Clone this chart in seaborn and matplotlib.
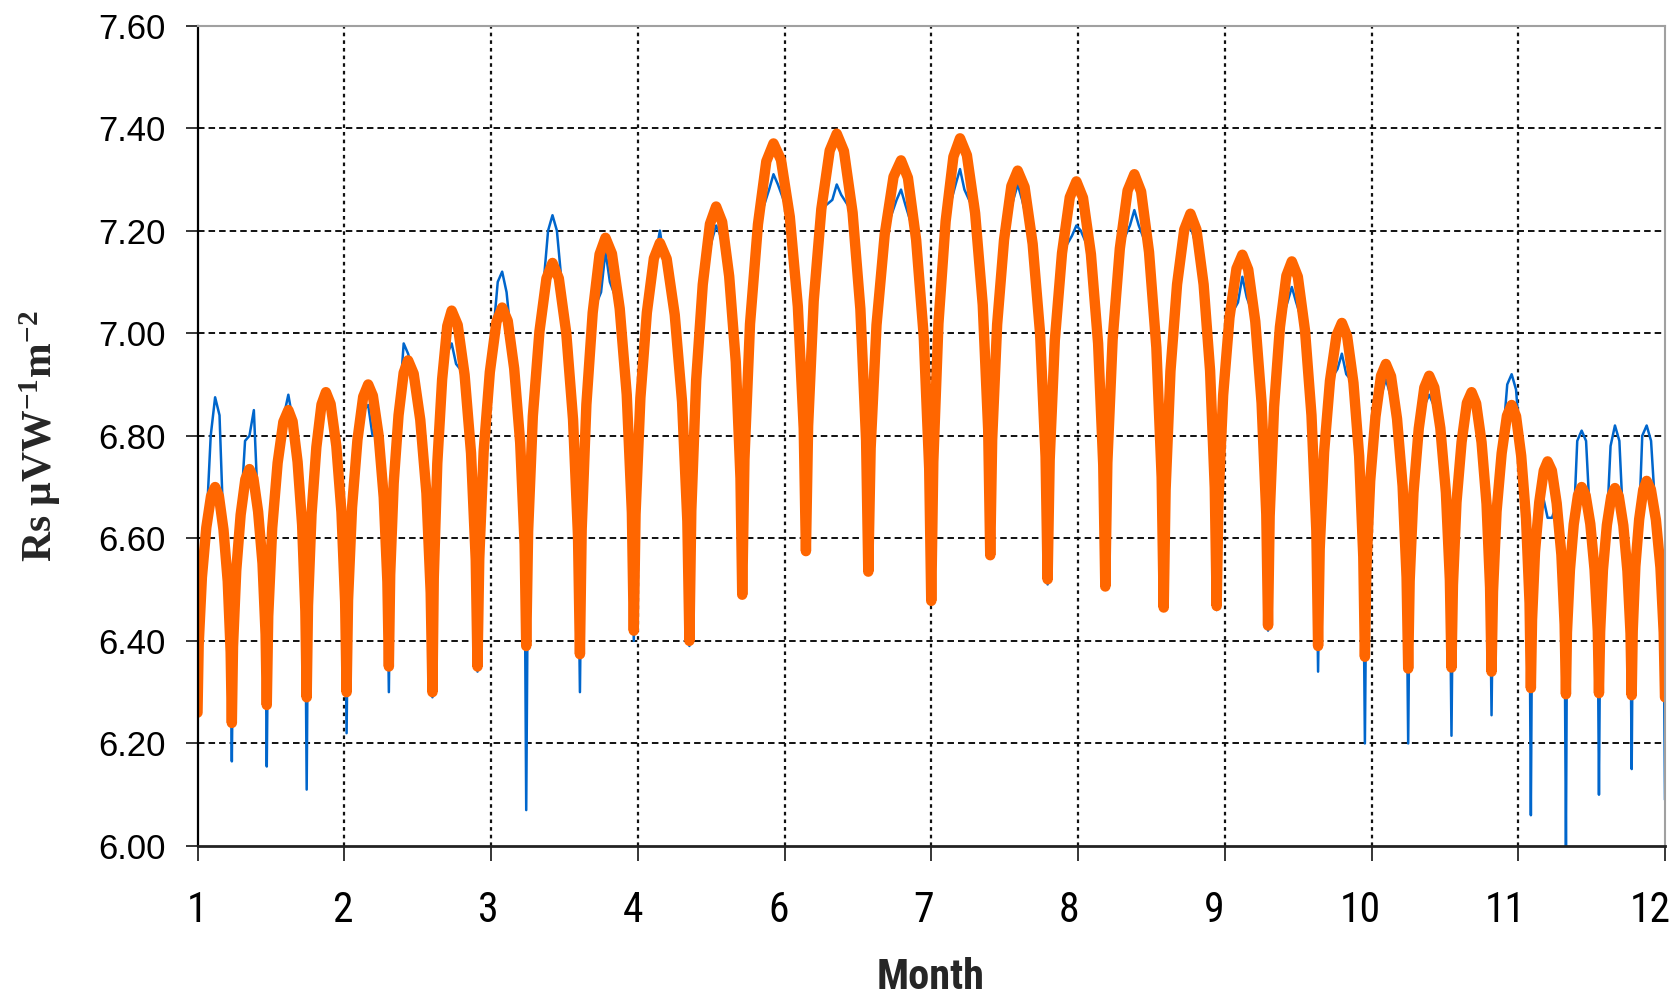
import matplotlib
matplotlib.use("Agg")
import matplotlib.pyplot as plt
from matplotlib import font_manager
from matplotlib.transforms import ScaledTranslation
import seaborn as sns
import pandas as pd

# ---------------- data ----------------
# x positions are in tick units: tick i sits at position i; labels as printed (no "5")
month_labels = ["1", "2", "3", "4", "6", "7", "8", "9", "10", "11", "12"]
y_ticks = [6.00, 6.20, 6.40, 6.60, 6.80, 7.00, 7.20, 7.40, 7.60]

# orange (model) curve: start value, then per arch 4 left-flank points, the peak,
# 4 right-flank points and the right minimum
orange_x = [
    0.000,
    0.008, 0.030, 0.060, 0.092, 0.120, 0.146, 0.177, 0.206, 0.226, 0.234,
    0.242, 0.264, 0.294, 0.326, 0.354, 0.381, 0.413, 0.443, 0.464, 0.472,
    0.482, 0.509, 0.546, 0.585, 0.619, 0.648, 0.682, 0.713, 0.735, 0.744,
    0.753, 0.777, 0.810, 0.845, 0.875, 0.907, 0.946, 0.981, 1.006, 1.016,
    1.026, 1.053, 1.090, 1.129, 1.163, 1.195, 1.234, 1.269, 1.294, 1.304,
    1.313, 1.337, 1.370, 1.405, 1.435, 1.473, 1.518, 1.560, 1.589, 1.601,
    1.610, 1.634, 1.667, 1.702, 1.732, 1.773, 1.820, 1.864, 1.896, 1.908,
    1.920, 1.950, 1.992, 2.037, 2.076, 2.114, 2.158, 2.199, 2.229, 2.240,
    2.253, 2.285, 2.330, 2.378, 2.419, 2.462, 2.513, 2.559, 2.593, 2.606,
    2.618, 2.650, 2.693, 2.740, 2.780, 2.824, 2.877, 2.925, 2.960, 2.973,
    2.985, 3.018, 3.062, 3.110, 3.151, 3.197, 3.252, 3.302, 3.338, 3.352,
    3.365, 3.398, 3.443, 3.492, 3.534, 3.575, 3.623, 3.668, 3.700, 3.712,
    3.727, 3.765, 3.819, 3.876, 3.925, 3.976, 4.036, 4.091, 4.131, 4.146,
    4.161, 4.199, 4.251, 4.308, 4.356, 4.405, 4.464, 4.517, 4.556, 4.571,
    4.587, 4.627, 4.683, 4.743, 4.794, 4.841, 4.897, 4.949, 4.986, 5.000,
    5.014, 5.049, 5.098, 5.151, 5.196, 5.243, 5.299, 5.351, 5.388, 5.402,
    5.415, 5.449, 5.496, 5.546, 5.589, 5.636, 5.691, 5.742, 5.779, 5.793,
    5.807, 5.842, 5.891, 5.944, 5.989, 6.034, 6.088, 6.137, 6.172, 6.186,
    6.200, 6.236, 6.285, 6.338, 6.384, 6.430, 6.484, 6.534, 6.570, 6.584,
    6.597, 6.630, 6.675, 6.724, 6.766, 6.807, 6.856, 6.900, 6.932, 6.945,
    6.957, 6.989, 7.032, 7.080, 7.120, 7.160, 7.208, 7.251, 7.283, 7.295,
    7.306, 7.336, 7.376, 7.420, 7.457, 7.498, 7.547, 7.591, 7.624, 7.636,
    7.647, 7.677, 7.717, 7.761, 7.798, 7.834, 7.877, 7.916, 7.944, 7.955,
    7.965, 7.991, 8.027, 8.065, 8.098, 8.133, 8.174, 8.212, 8.239, 8.250,
    8.260, 8.286, 8.322, 8.360, 8.393, 8.428, 8.469, 8.507, 8.534, 8.545,
    8.555, 8.579, 8.614, 8.650, 8.682, 8.713, 8.750, 8.784, 8.808, 8.818,
    8.828, 8.852, 8.887, 8.923, 8.955, 8.985, 9.020, 9.053, 9.077, 9.086,
    9.094, 9.114, 9.143, 9.174, 9.200, 9.229, 9.262, 9.294, 9.316, 9.325,
    9.332, 9.352, 9.378, 9.407, 9.432, 9.459, 9.491, 9.520, 9.542, 9.550,
    9.558, 9.577, 9.604, 9.634, 9.659, 9.685, 9.716, 9.744, 9.765, 9.773,
    9.780, 9.798, 9.824, 9.852, 9.875, 9.904, 9.938, 9.969, 9.991, 10.000,
]
orange_y = [
    6.26,
    6.392, 6.524, 6.621, 6.682, 6.700, 6.682, 6.617, 6.516, 6.378, 6.240,
    6.389, 6.537, 6.646, 6.715, 6.735, 6.717, 6.652, 6.551, 6.413, 6.275,
    6.448, 6.620, 6.747, 6.827, 6.850, 6.828, 6.749, 6.626, 6.458, 6.290,
    6.469, 6.647, 6.778, 6.861, 6.885, 6.862, 6.780, 6.651, 6.476, 6.300,
    6.480, 6.660, 6.792, 6.876, 6.900, 6.878, 6.801, 6.680, 6.515, 6.350,
    6.529, 6.708, 6.840, 6.923, 6.947, 6.921, 6.831, 6.688, 6.494, 6.300,
    6.523, 6.746, 6.910, 7.014, 7.044, 7.016, 6.919, 6.766, 6.558, 6.350,
    6.560, 6.770, 6.924, 7.022, 7.050, 7.024, 6.931, 6.786, 6.588, 6.390,
    6.614, 6.838, 7.003, 7.107, 7.137, 7.107, 7.000, 6.832, 6.603, 6.374,
    6.618, 6.861, 7.040, 7.154, 7.186, 7.155, 7.048, 6.880, 6.650, 6.420,
    6.647, 6.874, 7.040, 7.146, 7.176, 7.145, 7.036, 6.866, 6.633, 6.400,
    6.654, 6.908, 7.095, 7.213, 7.247, 7.217, 7.111, 6.944, 6.717, 6.490,
    6.754, 7.018, 7.212, 7.335, 7.370, 7.338, 7.227, 7.052, 6.814, 6.575,
    6.819, 7.063, 7.242, 7.356, 7.389, 7.355, 7.235, 7.047, 6.791, 6.535,
    6.776, 7.016, 7.193, 7.305, 7.337, 7.303, 7.182, 6.993, 6.736, 6.478,
    6.749, 7.019, 7.218, 7.344, 7.380, 7.347, 7.234, 7.055, 6.811, 6.567,
    6.792, 7.017, 7.182, 7.287, 7.317, 7.285, 7.174, 6.998, 6.759, 6.520,
    6.753, 6.986, 7.156, 7.265, 7.296, 7.264, 7.154, 6.980, 6.743, 6.506,
    6.747, 6.988, 7.165, 7.278, 7.310, 7.276, 7.158, 6.972, 6.719, 6.465,
    6.695, 6.926, 7.095, 7.202, 7.233, 7.202, 7.095, 6.927, 6.698, 6.468,
    6.674, 6.879, 7.030, 7.126, 7.153, 7.124, 7.023, 6.864, 6.647, 6.430,
    6.643, 6.856, 7.012, 7.112, 7.140, 7.110, 7.005, 6.840, 6.615, 6.390,
    6.579, 6.768, 6.907, 6.995, 7.020, 6.994, 6.903, 6.760, 6.564, 6.369,
    6.540, 6.712, 6.837, 6.917, 6.940, 6.916, 6.833, 6.702, 6.524, 6.346,
    6.517, 6.689, 6.814, 6.894, 6.917, 6.894, 6.815, 6.689, 6.519, 6.348,
    6.509, 6.670, 6.788, 6.864, 6.885, 6.863, 6.787, 6.667, 6.504, 6.340,
    6.496, 6.652, 6.766, 6.839, 6.860, 6.838, 6.761, 6.639, 6.474, 6.308,
    6.441, 6.573, 6.670, 6.732, 6.750, 6.732, 6.668, 6.568, 6.432, 6.296,
    6.417, 6.538, 6.627, 6.684, 6.700, 6.684, 6.628, 6.539, 6.419, 6.298,
    6.418, 6.538, 6.626, 6.682, 6.698, 6.682, 6.625, 6.536, 6.415, 6.294,
    6.419, 6.545, 6.637, 6.695, 6.712, 6.695, 6.636, 6.543, 6.417, 6.290,
]

# blue (measured) series: values at each arch boundary (downward spikes)
blue_min = [6.22, 6.165, 6.155, 6.11, 6.22, 6.30, 6.29, 6.34, 6.07, 6.30,
            6.40, 6.39, 6.49, 6.575, 6.53, 6.47, 6.56, 6.51, 6.50, 6.46,
            6.46, 6.42, 6.34, 6.20, 6.20, 6.215, 6.255, 6.06, 6.00, 6.10,
            6.15, 6.09]
# blue values around each arch top: just before, at and just after the orange peak
blue_peak_l = [6.80, 6.79, 6.84, 6.81, 6.85, 6.98, 6.96, 7.10, 7.20, 7.08,
               7.15, 7.18, 7.28, 7.26, 7.26, 7.29, 7.26, 7.19, 7.21, 7.19,
               7.06, 7.06, 6.93, 6.88, 6.86, 6.85, 6.90, 6.68, 6.79, 6.78, 6.80]
blue_peak_c = [6.875, 6.80, 6.88, 6.89, 6.86, 6.96, 6.98, 7.12, 7.23, 7.16,
               7.20, 7.21, 7.31, 7.29, 7.28, 7.32, 7.29, 7.21, 7.24, 7.21,
               7.11, 7.09, 6.96, 6.91, 6.88, 6.87, 6.92, 6.64, 6.81, 6.82, 6.82]
blue_peak_r = [6.84, 6.85, 6.83, 6.85, 6.80, 6.93, 6.94, 7.08, 7.20, 7.10,
               7.14, 7.19, 7.29, 7.27, 7.25, 7.28, 7.26, 7.20, 7.21, 7.18,
               7.07, 7.06, 6.92, 6.88, 6.86, 6.85, 6.89, 6.64, 6.79, 6.79, 6.79]

# ---------------- assemble the blue series ----------------
# the blue trace runs under the orange flanks; it differs at the tops and the spikes
PEAK_HALF = 0.03
N_ARCH = len(blue_peak_c)
blue_x, blue_y = [], []
for k in range(N_ARCH):
    b = 10 * k
    p = b + 5
    blue_x += [orange_x[b], orange_x[b + 1], orange_x[b + 2], orange_x[b + 3],
               orange_x[p] - PEAK_HALF, orange_x[p], orange_x[p] + PEAK_HALF,
               orange_x[b + 7], orange_x[b + 8], orange_x[b + 9]]
    blue_y += [blue_min[k], orange_y[b + 1], orange_y[b + 2], orange_y[b + 3],
               blue_peak_l[k], blue_peak_c[k], blue_peak_r[k],
               orange_y[b + 7], orange_y[b + 8], orange_y[b + 9]]
blue_x.append(orange_x[-1])
blue_y.append(blue_min[-1])

df_orange = pd.DataFrame({"x": orange_x, "y": orange_y})
df_blue = pd.DataFrame({"x": blue_x, "y": blue_y})

# ---------------- style ----------------
sns.set_style("white")
plt.rcParams["font.family"] = ["Liberation Sans", "DejaVu Sans"]
plt.rcParams["mathtext.fontset"] = "custom"
plt.rcParams["mathtext.rm"] = "Liberation Serif:bold"
plt.rcParams["mathtext.bf"] = "Liberation Serif:bold"
plt.rcParams["mathtext.it"] = "Liberation Serif:bold"
plt.rcParams["lines.scale_dashes"] = False

# a narrow sans for the x axis texts, if one is installed
entries = font_manager.fontManager.ttflist
narrow_family, narrow_stretch = None, "normal"
for fam in ["Liberation Sans Narrow", "Roboto Condensed", "Open Sans Condensed"]:
    if any(e.name == fam for e in entries):
        narrow_family = fam
        break
if narrow_family is None:
    for fam in ["Noto Sans", "Open Sans", "Roboto"]:
        if any(e.name == fam and str(e.stretch) in ("condensed", "semi-condensed")
               for e in entries):
            narrow_family, narrow_stretch = fam, "condensed"
            break

W, H = 1679, 1000
fig = plt.figure(figsize=(W / 100, H / 100), dpi=100)
L, R, T, B = 197.5, 1665, 25.5, 846
ax = fig.add_axes([L / W, 1 - B / H, (R - L) / W, (B - T) / H])

sns.lineplot(data=df_blue, x="x", y="y", ax=ax, color="#0066CC", linewidth=1.8,
             sort=False, estimator=None, zorder=3)
sns.lineplot(data=df_orange, x="x", y="y", ax=ax, color="#FF6600", linewidth=7.5,
             sort=False, estimator=None, zorder=4, solid_joinstyle="round")

ax.set_xlim(0, 10)
ax.set_ylim(6.0, 7.6)
ax.set_xticks(range(len(month_labels)))
ax.set_yticks(y_ticks)
ax.set_yticklabels([f"{v:.2f}" for v in y_ticks])
ax.set_xlabel("")
ax.set_ylabel("")

# grid: dashed horizontals, dotted verticals
for yv in y_ticks[1:-1]:
    ax.axhline(yv, color="#111111", linewidth=1.4, linestyle=(0, (4.7, 2.9)), zorder=1)
for xv in range(1, len(month_labels) - 1):
    ax.axvline(xv, color="#111111", linewidth=1.6, linestyle=(0, (2.6, 2.9)), zorder=1)

ax.spines["left"].set_color("black")
ax.spines["left"].set_linewidth(1.6)
ax.spines["bottom"].set_color("#222222")
ax.spines["bottom"].set_linewidth(2.0)
for s in ["top", "right"]:
    ax.spines[s].set_color("#a0a0a0")
    ax.spines[s].set_linewidth(1.5)
for s in ax.spines.values():
    s.set_zorder(5)

if narrow_family:
    xfont = dict(fontfamily=narrow_family, fontstretch=narrow_stretch)
    xsize, msize = 30, 30.5
else:
    xfont = dict(fontfamily="Liberation Sans")
    xsize, msize = 27, 28

ax.tick_params(axis="x", length=11, width=1.1, pad=21, colors="black", direction="out",
               bottom=True)
ax.tick_params(axis="y", length=8.6, width=1.1, pad=14, labelsize=25, colors="black",
               direction="out", left=True)
ax.set_xticklabels(month_labels, fontsize=xsize, **xfont)
# the printed month labels sit slightly left of their ticks, more so to the right
for i, tick in enumerate(ax.xaxis.get_major_ticks()):
    tick.label1.set_transform(tick.label1.get_transform()
                              + ScaledTranslation(-i * 1.45 / 100, 0, fig.dpi_scale_trans))

fig.text(931 / W, 1 - 989 / H, "Month", ha="center", va="baseline",
         fontweight="bold", fontsize=msize, **xfont)
fig.text(40 / W, 1 - 436 / H, r"Rs μVW$^{-1}$m$^{-2}$", rotation=90,
         ha="center", va="center", fontfamily="Liberation Serif",
         fontweight="bold", fontsize=30)

fig.savefig("out.png", dpi=100, facecolor="white")
